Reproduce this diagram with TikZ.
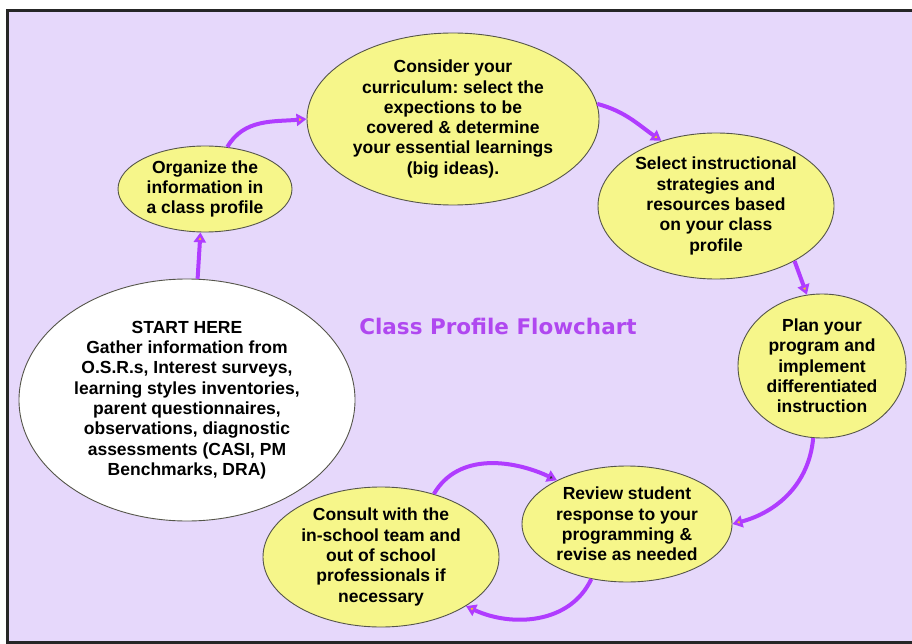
\documentclass[tikz,border=0pt]{standalone}
\usepackage{fontspec}
\setmainfont{Liberation Sans}
\newfontfamily\titlefont{DejaVu Sans}
\usetikzlibrary{shapes.geometric,arrows.meta}
\definecolor{bgc}{HTML}{E6D8FB}
\definecolor{ellc}{HTML}{F6F68A}
\definecolor{arrc}{HTML}{B03CFF}
\definecolor{ttlc}{HTML}{B048F0}
\definecolor{edgec}{HTML}{55554A}
\definecolor{tipc}{HTML}{F2C21E}
\frenchspacing
\begin{document}
\begin{tikzpicture}[x=1pt,y=1pt,
  bubble/.style={ellipse, draw=edgec, line width=0.9pt, fill=ellc, inner sep=0pt,
    align=center, font=\bfseries\fontsize{17.5}{20.3}\selectfont},
  flow/.style={draw=arrc, line width=4pt,
    -{Triangle[length=10pt,width=12pt,line width=2.5pt,fill=tipc]}},
  darkflow/.style={draw=arrc, line width=4pt,
    -{Triangle[length=10pt,width=12pt,line width=2.5pt,fill=black!80]}}]
\useasboundingbox (0,0) rectangle (912,-644);
\fill[white] (0,0) rectangle (912,-644);
\draw[line width=3pt, draw=black!85, fill=bgc] (7.5,-10.5) rectangle (916,-642.5);

\node[bubble, minimum width=292pt, minimum height=172pt] (cons) at (453,-119)
  {Consider your\\curriculum: select the\\expections to be\\covered \& determine\\your essential learnings\\(big ideas).};
\node[bubble, minimum width=174pt, minimum height=86pt] (org) at (205,-189)
  {Organize the\\information in\\a class profile};
\node[bubble, minimum width=236pt, minimum height=146pt] (sel) at (716,-206)
  {Select instructional\\strategies and\\resources based\\on your class\\profile};
\node[bubble, minimum width=168pt, minimum height=144pt] (plan) at (822,-366)
  {Plan your\\program and\\implement\\differentiated\\instruction};
\node[bubble, minimum width=210pt, minimum height=116pt] (rev) at (627,-524)
  {Review student\\response to your\\programming \&\\revise as needed};
\node[bubble, minimum width=236pt, minimum height=140pt] (consult) at (381,-557)
  {Consult with the\\in-school team and\\out of school\\professionals if\\necessary};
\node[bubble, fill=white, minimum width=336pt, minimum height=242pt] (start) at (187,-400)
  {START HERE\\Gather information from\\O.S.R.s, Interest surveys,\\learning styles inventories,\\parent questionnaires,\\observations, diagnostic\\assessments (CASI, PM\\Benchmarks, DRA)};

\node[text=ttlc, font=\titlefont\bfseries\fontsize{21.5}{24}\selectfont] (title) at (498,-326) {Class Profile Flowchart};

\draw[flow] (start.85) -- (org.264);
\draw[flow] (org.62) to[out=60,in=185] (cons.180);
\draw[flow] (cons.6) to[out=-15,in=145] (sel.130);
\draw[flow] (sel.-35) -- (plan.102);
\draw[flow] (plan.263) to[out=-95,in=15] (rev.0);
\draw[flow] (rev.237) to[out=-115,in=-25] (consult.-30);
\draw[darkflow] (consult.50) to[out=60,in=155] (rev.148);
\end{tikzpicture}
\end{document}
